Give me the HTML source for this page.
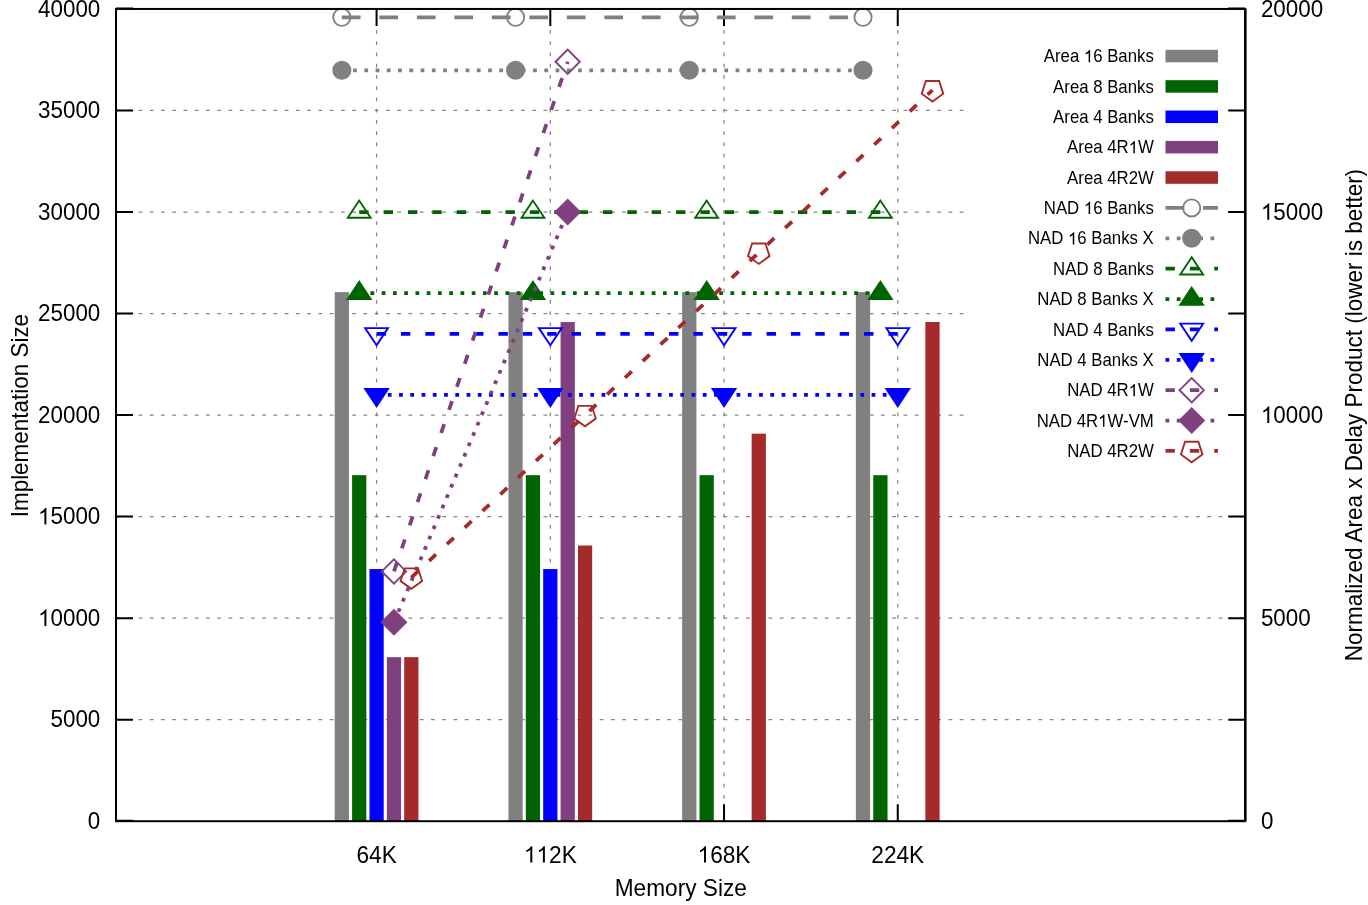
<!DOCTYPE html>
<html><head><meta charset="utf-8"><title>chart</title>
<style>html,body{margin:0;padding:0;background:#fff;width:1368px;height:905px;overflow:hidden}svg{will-change:transform}</style></head>
<body>
<svg width="1368" height="905" viewBox="0 0 1368 905" style="display:block;position:absolute;left:0;top:0" font-family="Liberation Sans, sans-serif">
<rect width="1368" height="905" fill="#fff"/>
<g stroke="#858585" stroke-width="1.25" stroke-dasharray="3.75 7.5" fill="none">
<path d="M116.00 719.67H1245.20"/>
<path d="M116.00 618.14H1245.20"/>
<path d="M116.00 516.61H1245.20"/>
<path d="M116.00 415.08H1245.20"/>
<path d="M116.00 313.54H1245.20"/>
<path d="M116.00 212.01H1245.20"/>
<path d="M116.00 110.48H1245.20"/>
<path d="M376.58 821.20V8.95"/>
<path d="M550.31 821.20V8.95"/>
<path d="M724.03 821.20V8.95"/>
<path d="M897.75 821.20V8.95"/>
</g>
<g stroke="#000" fill="none" stroke-width="2.0">
<path d="M116.00 820.85h17.0M1245.20 820.85h-17.0"/>
<path d="M116.00 719.67h17.0M1245.20 719.67h-17.0"/>
<path d="M116.00 618.14h17.0M1245.20 618.14h-17.0"/>
<path d="M116.00 516.61h17.0M1245.20 516.61h-17.0"/>
<path d="M116.00 415.08h17.0M1245.20 415.08h-17.0"/>
<path d="M116.00 313.54h17.0M1245.20 313.54h-17.0"/>
<path d="M116.00 212.01h17.0M1245.20 212.01h-17.0"/>
<path d="M116.00 110.48h17.0M1245.20 110.48h-17.0"/>
<path d="M116.00 8.50h17.0M1245.20 8.50h-17.0"/>
<path d="M376.58 821.20v-17.0M376.58 8.95v17.0"/>
<path d="M550.31 821.20v-17.0M550.31 8.95v17.0"/>
<path d="M724.03 821.20v-17.0M724.03 8.95v17.0"/>
<path d="M897.75 821.20v-17.0M897.75 8.95v17.0"/>
</g>
<rect x="334.72" y="292.12" width="14.25" height="529.08" fill="#808080"/>
<rect x="508.44" y="292.12" width="14.25" height="529.08" fill="#808080"/>
<rect x="682.16" y="292.12" width="14.25" height="529.08" fill="#808080"/>
<rect x="855.88" y="292.12" width="14.25" height="529.08" fill="#808080"/>
<rect x="352.09" y="475.18" width="14.25" height="346.02" fill="#006400"/>
<rect x="525.81" y="475.18" width="14.25" height="346.02" fill="#006400"/>
<rect x="699.53" y="475.18" width="14.25" height="346.02" fill="#006400"/>
<rect x="873.26" y="475.18" width="14.25" height="346.02" fill="#006400"/>
<rect x="369.46" y="569.06" width="14.25" height="252.14" fill="#0000ff"/>
<rect x="543.18" y="569.06" width="14.25" height="252.14" fill="#0000ff"/>
<rect x="386.83" y="657.17" width="14.25" height="164.03" fill="#804080"/>
<rect x="560.56" y="322.07" width="14.25" height="499.13" fill="#804080"/>
<rect x="404.20" y="657.17" width="14.25" height="164.03" fill="#a52a2a"/>
<rect x="577.93" y="545.50" width="14.25" height="275.70" fill="#a52a2a"/>
<rect x="751.65" y="433.66" width="14.25" height="387.54" fill="#a52a2a"/>
<rect x="925.37" y="321.99" width="14.25" height="499.21" fill="#a52a2a"/>
<path d="M341.84 17.28L515.56 17.28L689.29 17.28L863.01 17.28" fill="none" stroke="#808080" stroke-width="3.75" stroke-dasharray="18.75 18.75"/>
<circle cx="341.84" cy="17.28" r="8.60" fill="none" stroke="#808080" stroke-width="1.875"/>
<circle cx="515.56" cy="17.28" r="8.60" fill="none" stroke="#808080" stroke-width="1.875"/>
<circle cx="689.29" cy="17.28" r="8.60" fill="none" stroke="#808080" stroke-width="1.875"/>
<circle cx="863.01" cy="17.28" r="8.60" fill="none" stroke="#808080" stroke-width="1.875"/>
<path d="M341.84 70.27L515.56 70.27L689.29 70.27L863.01 70.27" fill="none" stroke="#808080" stroke-width="3.75" stroke-dasharray="3.75 7.5"/>
<circle cx="341.84" cy="70.27" r="8.60" fill="#808080" stroke="#808080" stroke-width="1.875"/>
<circle cx="515.56" cy="70.27" r="8.60" fill="#808080" stroke="#808080" stroke-width="1.875"/>
<circle cx="689.29" cy="70.27" r="8.60" fill="#808080" stroke="#808080" stroke-width="1.875"/>
<circle cx="863.01" cy="70.27" r="8.60" fill="#808080" stroke="#808080" stroke-width="1.875"/>
<path d="M359.21 212.01L532.94 212.01L706.66 212.01L880.38 212.01" fill="none" stroke="#006400" stroke-width="3.75" stroke-dasharray="9.375 15"/>
<path d="M359.21 200.57L347.77 217.77L370.65 217.77Z" fill="none" stroke="#006400" stroke-width="1.875" stroke-miterlimit="10"/>
<path d="M532.94 200.57L521.50 217.77L544.37 217.77Z" fill="none" stroke="#006400" stroke-width="1.875" stroke-miterlimit="10"/>
<path d="M706.66 200.57L695.22 217.77L718.10 217.77Z" fill="none" stroke="#006400" stroke-width="1.875" stroke-miterlimit="10"/>
<path d="M880.38 200.57L868.94 217.77L891.82 217.77Z" fill="none" stroke="#006400" stroke-width="1.875" stroke-miterlimit="10"/>
<path d="M359.21 293.24L532.94 293.24L706.66 293.24L880.38 293.24" fill="none" stroke="#006400" stroke-width="3.75" stroke-dasharray="3.75 7.5"/>
<path d="M359.21 281.80L347.77 299.00L370.65 299.00Z" fill="#006400" stroke="#006400" stroke-width="1.875" stroke-miterlimit="10"/>
<path d="M532.94 281.80L521.50 299.00L544.37 299.00Z" fill="#006400" stroke="#006400" stroke-width="1.875" stroke-miterlimit="10"/>
<path d="M706.66 281.80L695.22 299.00L718.10 299.00Z" fill="#006400" stroke="#006400" stroke-width="1.875" stroke-miterlimit="10"/>
<path d="M880.38 281.80L868.94 299.00L891.82 299.00Z" fill="#006400" stroke="#006400" stroke-width="1.875" stroke-miterlimit="10"/>
<path d="M376.58 333.85L550.31 333.85L724.03 333.85L897.75 333.85" fill="none" stroke="#0000ff" stroke-width="3.75" stroke-dasharray="9.375 15"/>
<path d="M376.58 345.29L365.15 328.09L388.02 328.09Z" fill="none" stroke="#0000ff" stroke-width="1.875" stroke-miterlimit="10"/>
<path d="M550.31 345.29L538.87 328.09L561.75 328.09Z" fill="none" stroke="#0000ff" stroke-width="1.875" stroke-miterlimit="10"/>
<path d="M724.03 345.29L712.59 328.09L735.47 328.09Z" fill="none" stroke="#0000ff" stroke-width="1.875" stroke-miterlimit="10"/>
<path d="M897.75 345.29L886.32 328.09L909.19 328.09Z" fill="none" stroke="#0000ff" stroke-width="1.875" stroke-miterlimit="10"/>
<path d="M376.58 394.77L550.31 394.77L724.03 394.77L897.75 394.77" fill="none" stroke="#0000ff" stroke-width="3.75" stroke-dasharray="3.75 7.5"/>
<path d="M376.58 406.21L365.15 389.01L388.02 389.01Z" fill="#0000ff" stroke="#0000ff" stroke-width="1.875" stroke-miterlimit="10"/>
<path d="M550.31 406.21L538.87 389.01L561.75 389.01Z" fill="#0000ff" stroke="#0000ff" stroke-width="1.875" stroke-miterlimit="10"/>
<path d="M724.03 406.21L712.59 389.01L735.47 389.01Z" fill="#0000ff" stroke="#0000ff" stroke-width="1.875" stroke-miterlimit="10"/>
<path d="M897.75 406.21L886.32 389.01L909.19 389.01Z" fill="#0000ff" stroke="#0000ff" stroke-width="1.875" stroke-miterlimit="10"/>
<path d="M393.96 571.43L567.68 61.75" fill="none" stroke="#804080" stroke-width="3.75" stroke-dasharray="9.375 15"/>
<path d="M381.79 571.43L393.96 559.27L406.12 571.43L393.96 583.60Z" fill="none" stroke="#804080" stroke-width="1.875" stroke-miterlimit="10"/>
<path d="M555.52 61.75L567.68 49.58L579.84 61.75L567.68 73.91Z" fill="none" stroke="#804080" stroke-width="1.875" stroke-miterlimit="10"/>
<path d="M393.96 622.20L567.68 212.01" fill="none" stroke="#804080" stroke-width="3.75" stroke-dasharray="3.75 7.5"/>
<path d="M381.79 622.20L393.96 610.04L406.12 622.20L393.96 634.36Z" fill="#804080" stroke="#804080" stroke-width="1.875" stroke-miterlimit="10"/>
<path d="M555.52 212.01L567.68 199.85L579.84 212.01L567.68 224.17Z" fill="#804080" stroke="#804080" stroke-width="1.875" stroke-miterlimit="10"/>
<path d="M411.33 577.53L585.05 415.08L758.78 252.63L932.50 90.18" fill="none" stroke="#a52a2a" stroke-width="3.75" stroke-dasharray="9.375 15"/>
<path d="M417.98 568.38L404.68 568.38L400.57 581.02L411.33 588.83L422.09 581.02Z" fill="none" stroke="#a52a2a" stroke-width="1.875" stroke-miterlimit="10"/>
<path d="M591.70 405.93L578.40 405.93L574.30 418.57L585.05 426.38L595.81 418.57Z" fill="none" stroke="#a52a2a" stroke-width="1.875" stroke-miterlimit="10"/>
<path d="M765.42 243.48L752.13 243.48L748.02 256.12L758.78 263.93L769.53 256.12Z" fill="none" stroke="#a52a2a" stroke-width="1.875" stroke-miterlimit="10"/>
<path d="M939.15 81.03L925.85 81.03L921.74 93.67L932.50 101.48L943.25 93.67Z" fill="none" stroke="#a52a2a" stroke-width="1.875" stroke-miterlimit="10"/>
<rect x="964.5" y="8.95" width="259.50" height="462" fill="#fff"/>
<g fill="#000">
<g transform="translate(1153.80 62.15) scale(0.993 1.047)" font-size="16.9"><text x="-110.80" y="0" xml:space="preserve">Area </text><path transform="translate(-70.44 0) scale(0.00825 -0.00825)" d="M763 0H583V1102Q518 1043 412 983Q307 924 223 894V1061Q374 1129 487 1226Q600 1323 647 1409H763Z"/><text x="-61.05" y="0" xml:space="preserve">6 Banks</text></g>
<text transform="translate(1153.80 92.52) scale(0.993 1.047)" font-size="16.9" text-anchor="end">Area 8 Banks</text>
<text transform="translate(1153.80 122.90) scale(0.993 1.047)" font-size="16.9" text-anchor="end">Area 4 Banks</text>
<g transform="translate(1153.80 153.28) scale(0.993 1.047)" font-size="16.9"><text x="-87.31" y="0" xml:space="preserve">Area 4R</text><path transform="translate(-25.36 0) scale(0.00825 -0.00825)" d="M763 0H583V1102Q518 1043 412 983Q307 924 223 894V1061Q374 1129 487 1226Q600 1323 647 1409H763Z"/><text x="-15.97" y="0" xml:space="preserve">W</text></g>
<text transform="translate(1153.80 183.65) scale(0.993 1.047)" font-size="16.9" text-anchor="end">Area 4R2W</text>
<g transform="translate(1153.80 214.03) scale(0.993 1.047)" font-size="16.9"><text x="-110.78" y="0" xml:space="preserve">NAD </text><path transform="translate(-70.44 0) scale(0.00825 -0.00825)" d="M763 0H583V1102Q518 1043 412 983Q307 924 223 894V1061Q374 1129 487 1226Q600 1323 647 1409H763Z"/><text x="-61.05" y="0" xml:space="preserve">6 Banks</text></g>
<g transform="translate(1153.80 244.40) scale(0.993 1.047)" font-size="16.9"><text x="-126.75" y="0" xml:space="preserve">NAD </text><path transform="translate(-86.41 0) scale(0.00825 -0.00825)" d="M763 0H583V1102Q518 1043 412 983Q307 924 223 894V1061Q374 1129 487 1226Q600 1323 647 1409H763Z"/><text x="-77.02" y="0" xml:space="preserve">6 Banks X</text></g>
<text transform="translate(1153.80 274.78) scale(0.993 1.047)" font-size="16.9" text-anchor="end">NAD 8 Banks</text>
<text transform="translate(1153.80 305.15) scale(0.993 1.047)" font-size="16.9" text-anchor="end">NAD 8 Banks X</text>
<text transform="translate(1153.80 335.53) scale(0.993 1.047)" font-size="16.9" text-anchor="end">NAD 4 Banks</text>
<text transform="translate(1153.80 365.90) scale(0.993 1.047)" font-size="16.9" text-anchor="end">NAD 4 Banks X</text>
<g transform="translate(1153.80 396.28) scale(0.993 1.047)" font-size="16.9"><text x="-87.30" y="0" xml:space="preserve">NAD 4R</text><path transform="translate(-25.36 0) scale(0.00825 -0.00825)" d="M763 0H583V1102Q518 1043 412 983Q307 924 223 894V1061Q374 1129 487 1226Q600 1323 647 1409H763Z"/><text x="-15.97" y="0" xml:space="preserve">W</text></g>
<g transform="translate(1153.80 426.65) scale(0.993 1.047)" font-size="16.9"><text x="-117.94" y="0" xml:space="preserve">NAD 4R</text><path transform="translate(-56.00 0) scale(0.00825 -0.00825)" d="M763 0H583V1102Q518 1043 412 983Q307 924 223 894V1061Q374 1129 487 1226Q600 1323 647 1409H763Z"/><text x="-46.61" y="0" xml:space="preserve">W-VM</text></g>
<text transform="translate(1153.80 457.03) scale(0.993 1.047)" font-size="16.9" text-anchor="end">NAD 4R2W</text>
</g>
<rect x="1165.5" y="49.80" width="52.5" height="12.5" fill="#808080"/>
<rect x="1165.5" y="80.17" width="52.5" height="12.5" fill="#006400"/>
<rect x="1165.5" y="110.55" width="52.5" height="12.5" fill="#0000ff"/>
<rect x="1165.5" y="140.93" width="52.5" height="12.5" fill="#804080"/>
<rect x="1165.5" y="171.30" width="52.5" height="12.5" fill="#a52a2a"/>
<path d="M1165.5 207.93H1218.0" fill="none" stroke="#808080" stroke-width="3.75" stroke-dasharray="18.75 18.75"/>
<circle cx="1191.70" cy="207.93" r="8.60" fill="none" stroke="#808080" stroke-width="1.875"/>
<path d="M1165.5 238.30H1218.0" fill="none" stroke="#808080" stroke-width="3.75" stroke-dasharray="3.75 7.5"/>
<circle cx="1191.70" cy="238.30" r="8.60" fill="#808080" stroke="#808080" stroke-width="1.875"/>
<path d="M1165.5 268.68H1218.0" fill="none" stroke="#006400" stroke-width="3.75" stroke-dasharray="9.375 15"/>
<path d="M1191.70 257.24L1180.26 274.44L1203.14 274.44Z" fill="none" stroke="#006400" stroke-width="1.875" stroke-miterlimit="10"/>
<path d="M1165.5 299.05H1218.0" fill="none" stroke="#006400" stroke-width="3.75" stroke-dasharray="3.75 7.5"/>
<path d="M1191.70 287.61L1180.26 304.81L1203.14 304.81Z" fill="#006400" stroke="#006400" stroke-width="1.875" stroke-miterlimit="10"/>
<path d="M1165.5 329.43H1218.0" fill="none" stroke="#0000ff" stroke-width="3.75" stroke-dasharray="9.375 15"/>
<path d="M1191.70 340.86L1180.26 323.66L1203.14 323.66Z" fill="none" stroke="#0000ff" stroke-width="1.875" stroke-miterlimit="10"/>
<path d="M1165.5 359.80H1218.0" fill="none" stroke="#0000ff" stroke-width="3.75" stroke-dasharray="3.75 7.5"/>
<path d="M1191.70 371.24L1180.26 354.04L1203.14 354.04Z" fill="#0000ff" stroke="#0000ff" stroke-width="1.875" stroke-miterlimit="10"/>
<path d="M1165.5 390.18H1218.0" fill="none" stroke="#804080" stroke-width="3.75" stroke-dasharray="9.375 15"/>
<path d="M1179.54 390.18L1191.70 378.01L1203.86 390.18L1191.70 402.34Z" fill="none" stroke="#804080" stroke-width="1.875" stroke-miterlimit="10"/>
<path d="M1165.5 420.55H1218.0" fill="none" stroke="#804080" stroke-width="3.75" stroke-dasharray="3.75 7.5"/>
<path d="M1179.54 420.55L1191.70 408.39L1203.86 420.55L1191.70 432.71Z" fill="#804080" stroke="#804080" stroke-width="1.875" stroke-miterlimit="10"/>
<path d="M1165.5 450.93H1218.0" fill="none" stroke="#a52a2a" stroke-width="3.75" stroke-dasharray="9.375 15"/>
<path d="M1198.35 441.78L1185.05 441.78L1180.94 454.42L1191.70 462.23L1202.46 454.42Z" fill="none" stroke="#a52a2a" stroke-width="1.875" stroke-miterlimit="10"/>
<rect x="116.00" y="8.95" width="1129.20" height="812.25" fill="none" stroke="#000" stroke-width="2.0"/>
<path d="M1245.30 8.95V821.20" fill="none" stroke="#000" stroke-width="2.4"/>
<g fill="#000">
<text transform="translate(100.30 829.00) scale(0.988 1.047)" font-size="22.67" text-anchor="end">0</text>
<text transform="translate(100.30 727.47) scale(0.988 1.047)" font-size="22.67" text-anchor="end">5000</text>
<g transform="translate(100.30 625.94) scale(0.988 1.047)" font-size="22.67"><path transform="translate(-63.02 0) scale(0.01107 -0.01107)" d="M763 0H583V1102Q518 1043 412 983Q307 924 223 894V1061Q374 1129 487 1226Q600 1323 647 1409H763Z"/><text x="-50.42" y="0" xml:space="preserve">0000</text></g>
<g transform="translate(100.30 524.41) scale(0.988 1.047)" font-size="22.67"><path transform="translate(-63.02 0) scale(0.01107 -0.01107)" d="M763 0H583V1102Q518 1043 412 983Q307 924 223 894V1061Q374 1129 487 1226Q600 1323 647 1409H763Z"/><text x="-50.42" y="0" xml:space="preserve">5000</text></g>
<text transform="translate(100.30 422.88) scale(0.988 1.047)" font-size="22.67" text-anchor="end">20000</text>
<text transform="translate(100.30 321.34) scale(0.988 1.047)" font-size="22.67" text-anchor="end">25000</text>
<text transform="translate(100.30 219.81) scale(0.988 1.047)" font-size="22.67" text-anchor="end">30000</text>
<text transform="translate(100.30 118.28) scale(0.988 1.047)" font-size="22.67" text-anchor="end">35000</text>
<text transform="translate(100.30 16.75) scale(0.988 1.047)" font-size="22.67" text-anchor="end">40000</text>
<text transform="translate(1260.90 829.00) scale(0.988 1.047)" font-size="22.67" text-anchor="start">0</text>
<text transform="translate(1260.90 625.94) scale(0.988 1.047)" font-size="22.67" text-anchor="start">5000</text>
<g transform="translate(1260.90 422.88) scale(0.988 1.047)" font-size="22.67"><path transform="translate(0.00 0) scale(0.01107 -0.01107)" d="M763 0H583V1102Q518 1043 412 983Q307 924 223 894V1061Q374 1129 487 1226Q600 1323 647 1409H763Z"/><text x="12.59" y="0" xml:space="preserve">0000</text></g>
<g transform="translate(1260.90 219.81) scale(0.988 1.047)" font-size="22.67"><path transform="translate(0.00 0) scale(0.01107 -0.01107)" d="M763 0H583V1102Q518 1043 412 983Q307 924 223 894V1061Q374 1129 487 1226Q600 1323 647 1409H763Z"/><text x="12.59" y="0" xml:space="preserve">5000</text></g>
<text transform="translate(1260.90 16.75) scale(0.988 1.047)" font-size="22.67" text-anchor="start">20000</text>
<text transform="translate(376.58 862.60) scale(1.0 1.047)" font-size="22.67" text-anchor="middle">64K</text>
<g transform="translate(550.31 862.60) scale(1.0 1.047)" font-size="22.67"><path transform="translate(-26.46 0) scale(0.01107 -0.01107)" d="M763 0H583V1102Q518 1043 412 983Q307 924 223 894V1061Q374 1129 487 1226Q600 1323 647 1409H763Z"/><path transform="translate(-13.87 0) scale(0.01107 -0.01107)" d="M763 0H583V1102Q518 1043 412 983Q307 924 223 894V1061Q374 1129 487 1226Q600 1323 647 1409H763Z"/><text x="-1.27" y="0" xml:space="preserve">2K</text></g>
<g transform="translate(724.03 862.60) scale(1.0 1.047)" font-size="22.67"><path transform="translate(-26.46 0) scale(0.01107 -0.01107)" d="M763 0H583V1102Q518 1043 412 983Q307 924 223 894V1061Q374 1129 487 1226Q600 1323 647 1409H763Z"/><text x="-13.87" y="0" xml:space="preserve">68K</text></g>
<text transform="translate(897.75 862.60) scale(1.0 1.047)" font-size="22.67" text-anchor="middle">224K</text>
<text transform="translate(680.80 895.80) scale(1.0 1.047)" font-size="22.67" text-anchor="middle">Memory Size</text>
<text transform="translate(27.80 415.60) rotate(-90) scale(0.991 1.047)" font-size="22.67" text-anchor="middle">Implementation Size</text>
<text transform="translate(1362.20 415.05) rotate(-90) scale(0.9925 1.047)" font-size="22.67" text-anchor="middle">Normalized Area x Delay Product (lower is better)</text>
</g>
</svg>
</body></html>
